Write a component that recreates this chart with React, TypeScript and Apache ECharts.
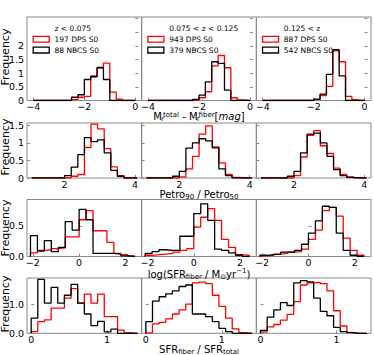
import React, { useEffect, useRef } from "react";
import * as echarts from "echarts";

// ---------- data ----------
const REDSHIFT_LABELS = ["z < 0.075", "0.075 < z < 0.125", "0.125 < z"];
const DPS_LABELS = ["197 DPS S0", "943 DPS S0", "887 DPS S0"];
const NBCS_LABELS = ["88 NBCS S0", "379 NBCS S0", "542 NBCS S0"];

// Row 1: M_total - M_fiber, bins of 0.25 from -4
const MAG_START = -4;
const MAG_WIDTH = 0.25;
const magDPS1 = [0, 0, 0, 0, 0, 0, 0.03, 0.12, 0.15, 0.9, 1.19, 1.37, 0.31, 0.05, 0, 0];
const magNBCS1 = [0, 0, 0, 0, 0, 0, 0.12, 0.21, 0.77, 0.87, 1.21, 0.77, 0, 0, 0, 0];
const magDPS2 = [0, 0, 0, 0, 0, 0, 0, 0.01, 0.1, 0.32, 1.27, 1.65, 1.2, 0.1, 0.02, 0];
const magNBCS2 = [0, 0, 0, 0, 0, 0, 0, 0.04, 0.2, 0.68, 1.42, 1.36, 0.38, 0, 0, 0];
const magDPS3 = [0, 0, 0, 0, 0, 0, 0, 0, 0.03, 0.18, 0.52, 1.82, 1.42, 0.15, 0.03, 0];
const magNBCS3 = [0, 0, 0, 0, 0, 0, 0, 0, 0.05, 0.23, 0.96, 1.86, 0.9, 0, 0, 0];

// Row 2: Petro90 / Petro50
const CONC_START = 1.0625;
const CONC_WIDTH = 0.1875;
const concDPS1 = [0, 0, 0, 0, 0, 0, 0.05, 0.1, 0.87, 1.54, 1.4, 0.84, 0.32, 0.07, 0, 0];
const concNBCS1 = [0, 0, 0, 0, 0, 0.07, 0.31, 0.67, 1.15, 1.04, 1.09, 0.72, 0.22, 0.05, 0, 0];
const concDPS2 = [0, 0, 0, 0, 0, 0.03, 0.26, 0.62, 1.25, 1.49, 0.89, 0.43, 0.1, 0.02, 0, 0];
const concNBCS2 = [0, 0, 0, 0, 0.05, 0.19, 0.85, 1.0, 1.12, 1.06, 0.86, 0.26, 0.07, 0, 0, 0];
const concDPS3 = [0, 0, 0, 0, 0, 0.07, 0.6, 1.22, 1.35, 0.92, 0.7, 0.28, 0.1, 0.03, 0, 0];
const concNBCS3 = [0, 0, 0, 0, 0.05, 0.19, 0.72, 1.25, 1.28, 1.0, 0.62, 0.24, 0.07, 0.02, 0, 0];

// Row 3: log(SFR_fiber)
const SFR_START = -2.1;
const SFR_WIDTH = 0.3;
const sfrDPS1 = [0.06, 0.1, 0.11, 0.13, 0.14, 0.32, 0.32, 0.6, 0.75, 0.42, 0.42, 0.23, 0.05, 0.03, 0.01];
const sfrNBCS1 = [0.34, 0.09, 0.26, 0.08, 0.15, 0.57, 0.43, 0.77, 0.6, 0.05, 0.05, 0.05, 0.04, 0.01, 0];
const sfrDPS2 = [0.02, 0.03, 0.04, 0.05, 0.07, 0.1, 0.13, 0.48, 0.64, 0.78, 0.59, 0.28, 0.15, 0.03, 0.02];
const sfrNBCS2 = [0.05, 0.08, 0.11, 0.1, 0.1, 0.33, 0.33, 0.7, 0.86, 0.59, 0.12, 0.1, 0.06, 0.02, 0];
const sfrDPS3 = [0.01, 0.02, 0.04, 0.05, 0.07, 0.08, 0.12, 0.28, 0.43, 0.75, 0.8, 0.66, 0.3, 0.1, 0.02];
const sfrNBCS3 = [0.02, 0.03, 0.04, 0.07, 0.07, 0.1, 0.2, 0.38, 0.58, 0.82, 0.8, 0.38, 0.1, 0.02, 0];

// Row 4: SFR_fiber / SFR_total
const FRAC_START = 0;
const FRAC_WIDTH = 0.0875;
const fracDPS1 = [0.06, 0.4, 0.46, 0.86, 0.86, 1.2, 1.53, 1.03, 1.34, 1.03, 1.34, 0.57, 0.57, 0.11, 0.02, 0];
const fracNBCS1 = [0.52, 1.84, 1.03, 1.57, 1.03, 1.3, 1.67, 1.03, 0.66, 0.26, 0.41, 0.05, 0.14, 0, 0, 0];
const fracDPS2 = [0.02, 0.32, 0.37, 0.49, 0.66, 0.8, 1.0, 1.72, 1.75, 1.7, 1.3, 0.92, 0.52, 0.15, 0.02, 0];
const fracNBCS2 = [0.4, 1.1, 1.25, 1.35, 1.45, 1.6, 1.65, 0.66, 0.66, 0.57, 0.4, 0.17, 0.06, 0, 0, 0];
const fracDPS3 = [0.05, 0.22, 0.3, 0.45, 0.65, 1.08, 1.65, 1.72, 1.74, 1.7, 1.45, 0.77, 0.25, 0.03, 0, 0];
const fracNBCS3 = [0.1, 0.55, 0.8, 1.05, 0.95, 1.72, 1.8, 1.76, 1.2, 0.75, 0.6, 0.2, 0.06, 0.02, 0, 0];

// tick values
const MAG_XTICKS = [-4, -2, 0];
const CONC_XTICKS = [2, 4];
const SFR_XTICKS = [-2, 0, 2];
const FRAC_XTICKS = [0, 1];
const MAG_YTICKS = [0, 0.5, 1, 1.5, 2, 2.5, 3];
const MAG_YLABELS = [0, 0.5, 1, 1.5, 2];
const CONC_YTICKS = [0, 0.5, 1, 1.5];
const SFR_YTICKS = [0, 0.5];
const FRAC_YTICKS = [0, 1];

// ---------- layout / style ----------
const FONT = "DejaVu Sans";
const COL_LEFT = 27;
const COL_W = 114.67;
const ROW_TOP = [17, 123, 199.5, 278];
const ROW_H = [83.5, 55, 57, 55.3];
const RED = "#ff0000";
const BLACK = "#000000";
const SPINE = "#888888";

const minusFmt = (v: number) => (v < 0 ? "\u2212" + Math.abs(v) : String(v));
const fixed1 = (v: number) => v.toFixed(1);

const ROWS = [
  {
    start: MAG_START, width: MAG_WIDTH, xMin: -4.25, xMax: 0.25, yMax: 3.06,
    xTicks: MAG_XTICKS, yTicks: MAG_YTICKS, yLabels: MAG_YLABELS, yFmt: minusFmt,
    dps: [magDPS1, magDPS2, magDPS3], nbcs: [magNBCS1, magNBCS2, magNBCS3],
  },
  {
    start: CONC_START, width: CONC_WIDTH, xMin: 0.93, xMax: 4.19, yMax: 1.57,
    xTicks: CONC_XTICKS, yTicks: CONC_YTICKS, yLabels: CONC_YTICKS, yFmt: minusFmt,
    dps: [concDPS1, concDPS2, concDPS3], nbcs: [concNBCS1, concNBCS2, concNBCS3],
  },
  {
    start: SFR_START, width: SFR_WIDTH, xMin: -2.25, xMax: 2.7, yMax: 0.93,
    xTicks: SFR_XTICKS, yTicks: SFR_YTICKS, yLabels: SFR_YTICKS, yFmt: fixed1,
    dps: [sfrDPS1, sfrDPS2, sfrDPS3], nbcs: [sfrNBCS1, sfrNBCS2, sfrNBCS3],
  },
  {
    start: FRAC_START, width: FRAC_WIDTH, xMin: -0.055, xMax: 1.455, yMax: 1.89,
    xTicks: FRAC_XTICKS, yTicks: FRAC_YTICKS, yLabels: FRAC_YTICKS, yFmt: fixed1,
    dps: [fracDPS1, fracDPS2, fracDPS3], nbcs: [fracNBCS1, fracNBCS2, fracNBCS3],
  },
];

function stepPoints(start: number, width: number, h: number[]) {
  const pts: number[][] = [[start, 0]];
  h.forEach((v, k) => {
    const x0 = start + k * width;
    pts.push([x0, v], [x0 + width, v]);
  });
  pts.push([start + h.length * width, 0]);
  return pts;
}

const RICH = {
  n: { fontSize: 10, fontFamily: FONT, color: "#000", lineHeight: 11 },
  it: { fontSize: 10, fontFamily: FONT, color: "#000", fontStyle: "italic", lineHeight: 11 },
  sup: { fontSize: 7, fontFamily: FONT, color: "#000", lineHeight: 8, padding: [0, 0, 6, 0] },
  supm: { fontSize: 7, fontFamily: FONT, color: "#000", lineHeight: 8, padding: [0, 0, 3, 0] },
  sub: { fontSize: 7, fontFamily: FONT, color: "#000", lineHeight: 8, padding: [5, 0, 0, 0] },
  subr: { fontSize: 7, fontFamily: FONT, color: "#000", lineHeight: 8, padding: [6, 0, 0, 0], width: 1 },
};

const TITLES = [
  { y: 116, text: "{n|M}{subr|r}{supm|total}{n| - M}{subr|r}{supm|fiber}{n|[}{it|mag}{n|]}" },
  { y: 194.5, text: "{n|Petro}{sub|90}{n| / Petro}{sub|50}" },
  { y: 274, text: "{n|log(SFR}{sub|fiber}{n| / M}{sub|\u2299}{n|yr}{sup|\u22121}{n|)}" },
  { y: 349, text: "{n|SFR}{sub|fiber}{n| / SFR}{sub|total}" },
];
const FREQ_Y = [57, 147, 228, 304];

function buildOption() {
  const grid: any[] = [];
  const xAxis: any[] = [];
  const yAxis: any[] = [];
  const series: any[] = [];
  ROWS.forEach((row, r) => {
    for (let c = 0; c < 3; c++) {
      const idx = r * 3 + c;
      grid.push({
        left: COL_LEFT + c * COL_W,
        top: ROW_TOP[r],
        width: COL_W,
        height: ROW_H[r],
        show: true,
        borderColor: SPINE,
        borderWidth: 1,
        backgroundColor: "transparent",
        containLabel: false,
        outerBoundsMode: "none",
      });
      xAxis.push({
        gridIndex: idx,
        type: "value",
        min: row.xMin,
        max: row.xMax,
        axisLine: { show: false },
        splitLine: { show: false },
        axisTick: { show: true, inside: true, length: 3, lineStyle: { color: SPINE }, customValues: row.xTicks },
        axisLabel: {
          show: true, customValues: row.xTicks, formatter: minusFmt,
          fontSize: 9.5, lineHeight: 9, fontFamily: FONT, color: "#000", margin: 1.5,
        },
      });
      yAxis.push({
        gridIndex: idx,
        type: "value",
        min: 0,
        max: row.yMax,
        axisLine: { show: false },
        splitLine: { show: false },
        axisTick: { show: true, inside: true, length: 3, lineStyle: { color: SPINE }, customValues: row.yTicks },
        axisLabel: {
          show: c === 0, customValues: row.yLabels, formatter: row.yFmt,
          fontSize: 9.5, fontFamily: FONT, color: "#000", margin: 3,
        },
      });
      series.push({
        type: "line",
        name: r === 0 ? DPS_LABELS[c] : "dps" + idx,
        xAxisIndex: idx,
        yAxisIndex: idx,
        data: stepPoints(row.start, row.width, row.dps[c]),
        symbol: "none",
        showSymbol: false,
        lineStyle: { color: RED, width: 1.3 },
        itemStyle: { color: RED },
        silent: true,
        z: 2,
      });
      series.push({
        type: "line",
        name: r === 0 ? NBCS_LABELS[c] : "nbcs" + idx,
        xAxisIndex: idx,
        yAxisIndex: idx,
        data: stepPoints(row.start, row.width, row.nbcs[c]),
        symbol: "none",
        showSymbol: false,
        lineStyle: { color: BLACK, width: 1.3 },
        itemStyle: { color: BLACK },
        silent: true,
        z: 3,
      });
    }
  });

  const graphic: any[] = [];
  TITLES.forEach((t) => {
    graphic.push({
      type: "text", x: 199, y: t.y, silent: true,
      style: { text: t.text, rich: RICH, align: "center", verticalAlign: "middle", fontSize: 10, fontFamily: FONT, fill: "#000" },
    });
  });
  FREQ_Y.forEach((y) => {
    graphic.push({
      type: "text", x: 5, y, rotation: Math.PI / 2, silent: true,
      style: { text: "Frequency", fontSize: 11, fontFamily: FONT, fill: "#000", align: "center", verticalAlign: "middle" },
    });
  });
  for (let c = 0; c < 3; c++) {
    const L = COL_LEFT + c * COL_W;
    const tx = L + 27.5;
    graphic.push({
      type: "text", x: tx, y: 28, silent: true,
      style: { text: REDSHIFT_LABELS[c], fontSize: 7.5, fontFamily: FONT, fill: "#000", align: "left", verticalAlign: "middle" },
    });
    graphic.push({
      type: "rect", silent: true, shape: { x: L + 6.2, y: 36.3, width: 16, height: 5.8 },
      style: { fill: "none", stroke: RED, lineWidth: 1.3 },
    });
    graphic.push({
      type: "text", x: tx, y: 39.3, silent: true,
      style: { text: DPS_LABELS[c], fontSize: 7.5, fontFamily: FONT, fill: "#000", align: "left", verticalAlign: "middle" },
    });
    graphic.push({
      type: "rect", silent: true, shape: { x: L + 6.2, y: 47.2, width: 16, height: 5.8 },
      style: { fill: "none", stroke: BLACK, lineWidth: 1.3 },
    });
    graphic.push({
      type: "text", x: tx, y: 50.2, silent: true,
      style: { text: NBCS_LABELS[c], fontSize: 7.5, fontFamily: FONT, fill: "#000", align: "left", verticalAlign: "middle" },
    });
  }

  return {
    animation: false,
    backgroundColor: "#ffffff",
    grid,
    xAxis,
    yAxis,
    series,
    graphic,
  };
}

export default function App() {
  const ref = useRef<HTMLDivElement>(null);
  useEffect(() => {
    if (!ref.current) return;
    const chart = echarts.init(ref.current, null, { renderer: "svg" });
    chart.setOption(buildOption() as any);
    return () => chart.dispose();
  }, []);
  return (
    <div
      ref={ref}
      style={{ position: "fixed", left: 0, top: 0, width: 374, height: 355 }}
    />
  );
}
